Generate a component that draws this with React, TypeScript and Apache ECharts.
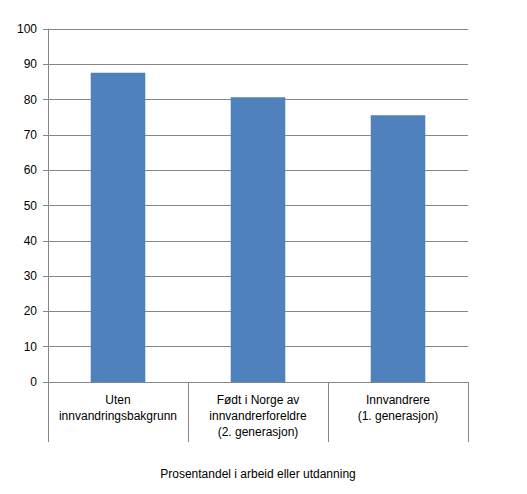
import React, { useEffect, useRef } from 'react'
import * as echarts from 'echarts'
import type { ECharts, EChartsOption } from 'echarts'

const categories = [
  'Uten\ninnvandringsbakgrunn',
  'Født i Norge av\ninnvandrerforeldre\n(2. generasjon)',
  'Innvandrere\n(1. generasjon)',
]
const values = [87.6, 80.7, 75.6]
const axisTitle = 'Prosentandel i arbeid eller utdanning'

const font = '"Liberation Sans", Arial, sans-serif'

export default function App() {
  const chartRef = useRef<HTMLDivElement | null>(null)
  const chartInstance = useRef<ECharts | null>(null)

  useEffect(() => {
    const option: EChartsOption = {
      animation: false,
      textStyle: { fontFamily: font },
      grid: {
        left: 48,
        right: 59,
        top: 29,
        bottom: 112,
        containLabel: false,
      },
      xAxis: {
        type: 'category',
        data: categories,
        name: axisTitle,
        nameLocation: 'middle',
        nameGap: 86,
        nameTextStyle: { color: '#000', fontSize: 12, fontFamily: font },
        axisLine: { lineStyle: { color: '#868686', width: 1 } },
        axisTick: { show: true, length: 60, lineStyle: { color: '#868686' } },
        axisLabel: {
          color: '#000',
          fontSize: 12,
          lineHeight: 16,
          margin: 10,
          interval: 0,
          fontFamily: font,
        },
      },
      yAxis: {
        type: 'value',
        min: 0,
        max: 100,
        interval: 10,
        axisLine: { show: true, lineStyle: { color: '#868686' } },
        axisTick: { show: true, length: 5, lineStyle: { color: '#868686' } },
        axisLabel: { color: '#000', fontSize: 12, margin: 11, fontFamily: font },
        splitLine: { lineStyle: { color: '#868686', width: 1 } },
      },
      series: [
        {
          type: 'bar',
          data: values,
          barWidth: '39%',
          itemStyle: { color: '#4F81BD' },
        },
      ],
    }

    if (chartRef.current) {
      chartInstance.current = echarts.init(chartRef.current, undefined, { renderer: 'svg' })
      chartInstance.current.setOption(option)
    }

    return () => {
      chartInstance.current?.dispose()
    }
  }, [])

  return (
    <div
      ref={chartRef}
      style={{ width: '527px', height: '494px', position: 'absolute', left: 0, top: 0 }}
    />
  )
}
